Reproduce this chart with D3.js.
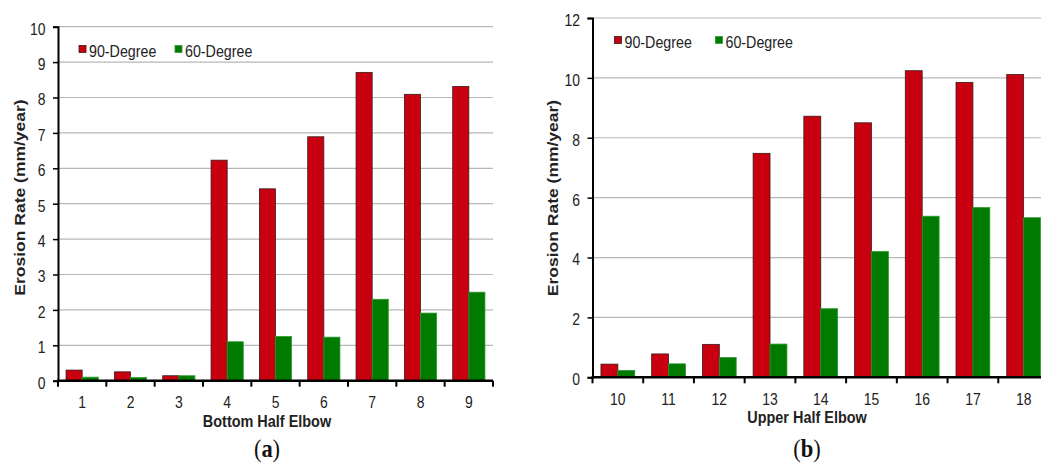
<!DOCTYPE html>
<html>
<head>
<meta charset="utf-8">
<script src="https://cdn.jsdelivr.net/npm/d3@7"></script>
<style>
  body { margin: 0; background: #fff; }
  svg { display: block; font-family: "Liberation Sans", Arial, sans-serif; }
</style>
</head>
<body>
<div id="chart"></div>
<script>
const w = 1041;
const h = 464;

// data
const seriesNames = ['90-Degree', '60-Degree'];
const bottomCats = ['1', '2', '3', '4', '5', '6', '7', '8', '9'];
const bottom90 = [0.3, 0.25, 0.14, 6.23, 5.42, 6.89, 8.71, 8.09, 8.31];
const bottom60 = [0.1, 0.09, 0.14, 1.1, 1.25, 1.23, 2.3, 1.91, 2.5];
const upperCats = ['10', '11', '12', '13', '14', '15', '16', '17', '18'];
const upper90 = [0.44, 0.78, 1.1, 7.48, 8.72, 8.5, 10.24, 9.85, 10.11];
const upper60 = [0.23, 0.45, 0.66, 1.11, 2.29, 4.2, 5.38, 5.67, 5.33];
const bottomTicks = [0, 1, 2, 3, 4, 5, 6, 7, 8, 9, 10];
const upperTicks = [0, 2, 4, 6, 8, 10, 12];

const colors = ['#c8000f', '#007a00'];
const strokes = ['#3a1a1a', '#2f9a2f'];
const sx = 0.82; // the original picture is squeezed sideways

const svg = d3.select('#chart')
  .append('svg')
  .attr('width', w)
  .attr('height', h);

function drawPanel(opts) {
  const x = d3.scaleBand()
    .domain(opts.cats)
    .range([opts.left, opts.right])
    .paddingInner(1 / 3)
    .paddingOuter(1 / 6);
  const xSub = d3.scaleBand()
    .domain(seriesNames)
    .range([0, x.bandwidth()]);
  const y = d3.scaleLinear()
    .domain([0, opts.max])
    .range([opts.bottom, opts.top]);

  const g = svg.append('g');

  // gridlines
  g.selectAll('.grid')
    .data(opts.ticks.filter((d) => d > 0))
    .enter()
    .append('line')
    .attr('x1', opts.left)
    .attr('x2', opts.right)
    .attr('y1', (d) => y(d))
    .attr('y2', (d) => y(d))
    .attr('stroke', '#b8b8b8')
    .attr('stroke-width', 1.2);

  // bars
  const rows = opts.cats.map((c, i) => [c, opts.s90[i], opts.s60[i]]);
  seriesNames.forEach((name, k) => {
    g.selectAll('.bar' + k)
      .data(rows)
      .enter()
      .append('rect')
      .attr('x', (d) => x(d[0]) + xSub(name))
      .attr('y', (d) => y(d[k + 1]))
      .attr('width', xSub.bandwidth())
      .attr('height', (d) => y(0) - y(d[k + 1]))
      .attr('fill', colors[k])
      .attr('stroke', strokes[k])
      .attr('stroke-width', 0.8);
  });

  // y axis
  const yAxis = g.append('g')
    .attr('transform', 'translate(' + opts.left + ',0)')
    .call(d3.axisLeft(y).tickValues(opts.ticks).tickSize(5).tickPadding(5));
  yAxis.select('.domain').attr('stroke-width', 2);
  yAxis.selectAll('.tick line').attr('stroke-width', 1.5);
  yAxis.selectAll('text')
    .style('font-size', '17px')
    .attr('fill', '#222')
    .attr('transform', 'translate(-12.5,2) scale(' + sx + ',1)')
    .attr('x', 0);

  // x axis with ticks between categories
  const edges = opts.cats.map((c) => x(c) - x.step() * x.paddingInner() / 2)
    .concat([opts.right]);
  const xa = g.append('g');
  xa.append('line')
    .attr('x1', opts.left - 1)
    .attr('x2', opts.right)
    .attr('y1', y(0))
    .attr('y2', y(0))
    .attr('stroke', '#000')
    .attr('stroke-width', 2.5);
  xa.selectAll('.xt')
    .data(edges)
    .enter()
    .append('line')
    .attr('x1', (d) => d)
    .attr('x2', (d) => d)
    .attr('y1', y(0))
    .attr('y2', y(0) + 6)
    .attr('stroke', '#000')
    .attr('stroke-width', 2);
  xa.selectAll('.xl')
    .data(opts.cats)
    .enter()
    .append('text')
    .attr('transform', (d) => 'translate(' + (x(d) + x.bandwidth() / 2) + ',' + (y(0) + 27.5) + ') scale(' + sx + ',1)')
    .attr('text-anchor', 'middle')
    .attr('fill', '#222')
    .style('font-size', '17px')
    .text((d) => d);

  // axis titles
  g.append('text')
    .attr('transform', 'translate(' + opts.titleX + ',' + (y(0) + 46) + ') scale(0.85,1)')
    .attr('text-anchor', 'middle')
    .style('font-size', '17px')
    .style('font-weight', 'bold')
    .attr('fill', '#222')
    .text(opts.xTitle);
  g.append('text')
    .attr('transform', 'translate(' + opts.yTitleX + ',' + opts.yTitleY + ') rotate(-90) scale(1,0.88)')
    .attr('text-anchor', 'middle')
    .style('font-size', '17.5px')
    .style('font-weight', 'bold')
    .attr('fill', '#222')
    .text('Erosion Rate (mm/year)');

  // legend
  seriesNames.forEach((name, k) => {
    const lx = opts.legendX + k * opts.legendGap;
    g.append('rect')
      .attr('x', lx)
      .attr('y', opts.legendY - 11)
      .attr('width', 7)
      .attr('height', 7)
      .attr('fill', colors[k])
      .attr('stroke', strokes[k])
      .attr('stroke-width', 0.8);
    g.append('text')
      .attr('transform', 'translate(' + (lx + 10) + ',' + opts.legendY + ') scale(0.84,1)')
      .style('font-size', '17px')
      .attr('fill', '#222')
      .text(name);
  });

  // caption
  const cap = g.append('text')
    .attr('transform', 'translate(' + opts.titleX + ',' + (h - 7) + ') scale(0.9,1)')
    .attr('text-anchor', 'middle')
    .style('font-family', '"Liberation Serif", "DejaVu Serif", serif')
    .style('font-size', '25px')
    .attr('fill', '#111');
  cap.append('tspan').text('(');
  cap.append('tspan').style('font-weight', 'bold').text(opts.caption);
  cap.append('tspan').text(')');
}

drawPanel({
  cats: bottomCats, s90: bottom90, s60: bottom60, ticks: bottomTicks, max: 10,
  left: 58, right: 493, top: 26.7, bottom: 380.7,
  xTitle: 'Bottom Half Elbow', titleX: 267, yTitleX: 24.5, yTitleY: 197.5,
  legendX: 79, legendY: 56.5, legendGap: 96, caption: 'a'
});

drawPanel({
  cats: upperCats, s90: upper90, s60: upper60, ticks: upperTicks, max: 12,
  left: 592.5, right: 1049, top: 18, bottom: 377.3,
  xTitle: 'Upper Half Elbow', titleX: 807, yTitleX: 557.5, yTitleY: 198,
  legendX: 614.5, legendY: 47.5, legendGap: 101, caption: 'b'
});
</script>
</body>
</html>
